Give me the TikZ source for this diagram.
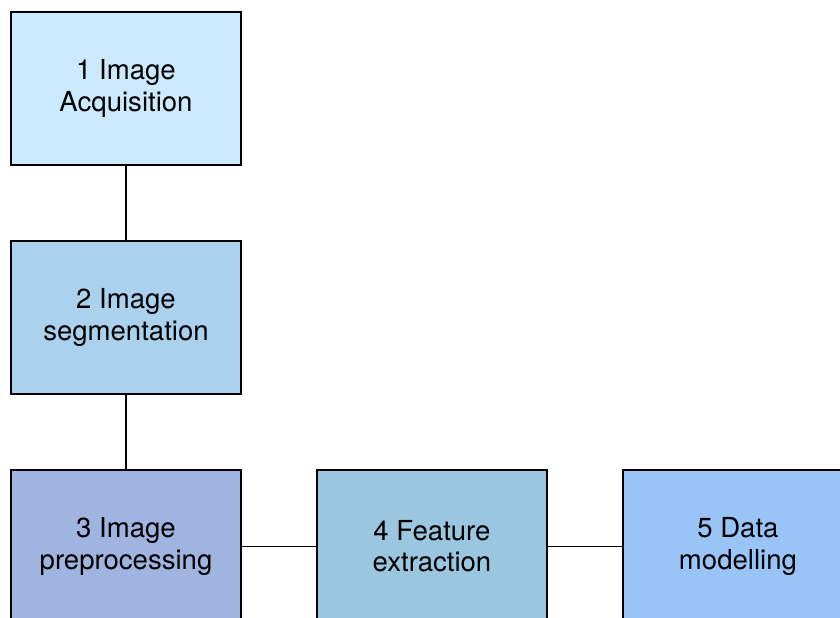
\documentclass[tikz,border=0pt]{standalone}
\usepackage{fontspec}
\setmainfont{TeX Gyre Heros}
\usetikzlibrary{positioning}
\definecolor{acqblue}{RGB}{204,234,253}
\definecolor{segblue}{RGB}{170,210,238}
\definecolor{preblue}{RGB}{160,180,224}
\definecolor{featblue}{RGB}{154,198,224}
\definecolor{modblue}{RGB}{152,196,248}
\tikzset{
	stepbox/.style={draw,line width=1.4pt,minimum width=5.75cm,minimum height=3.825cm,
		align=center,font=\fontsize{19.6}{22.5}\selectfont},
	link/.style={line width=1pt}
}
\begin{document}
\begin{tikzpicture}[node distance=1.85cm]
	\useasboundingbox (0,0) rectangle (21,-15.45);
	\clip (0,0) rectangle (21,-15.45);
	\node[stepbox,fill=acqblue] (acq) at (3.15,-2.21) {1 Image\\Acquisition};
	\node[stepbox,fill=segblue,below=of acq] (seg) {2 Image\\segmentation};
	\node[stepbox,fill=preblue,below=of seg] (pre) {3 Image\\preprocessing};
	\node[stepbox,fill=featblue,right=of pre] (feat) {4 Feature\\extraction};
	\node[stepbox,fill=modblue,right=of feat] (mod) {5 Data\\modelling};
	\draw[link] (acq)--(seg) (seg)--(pre)
		(pre)--(feat) (feat)--(mod);
\end{tikzpicture}
\end{document}
